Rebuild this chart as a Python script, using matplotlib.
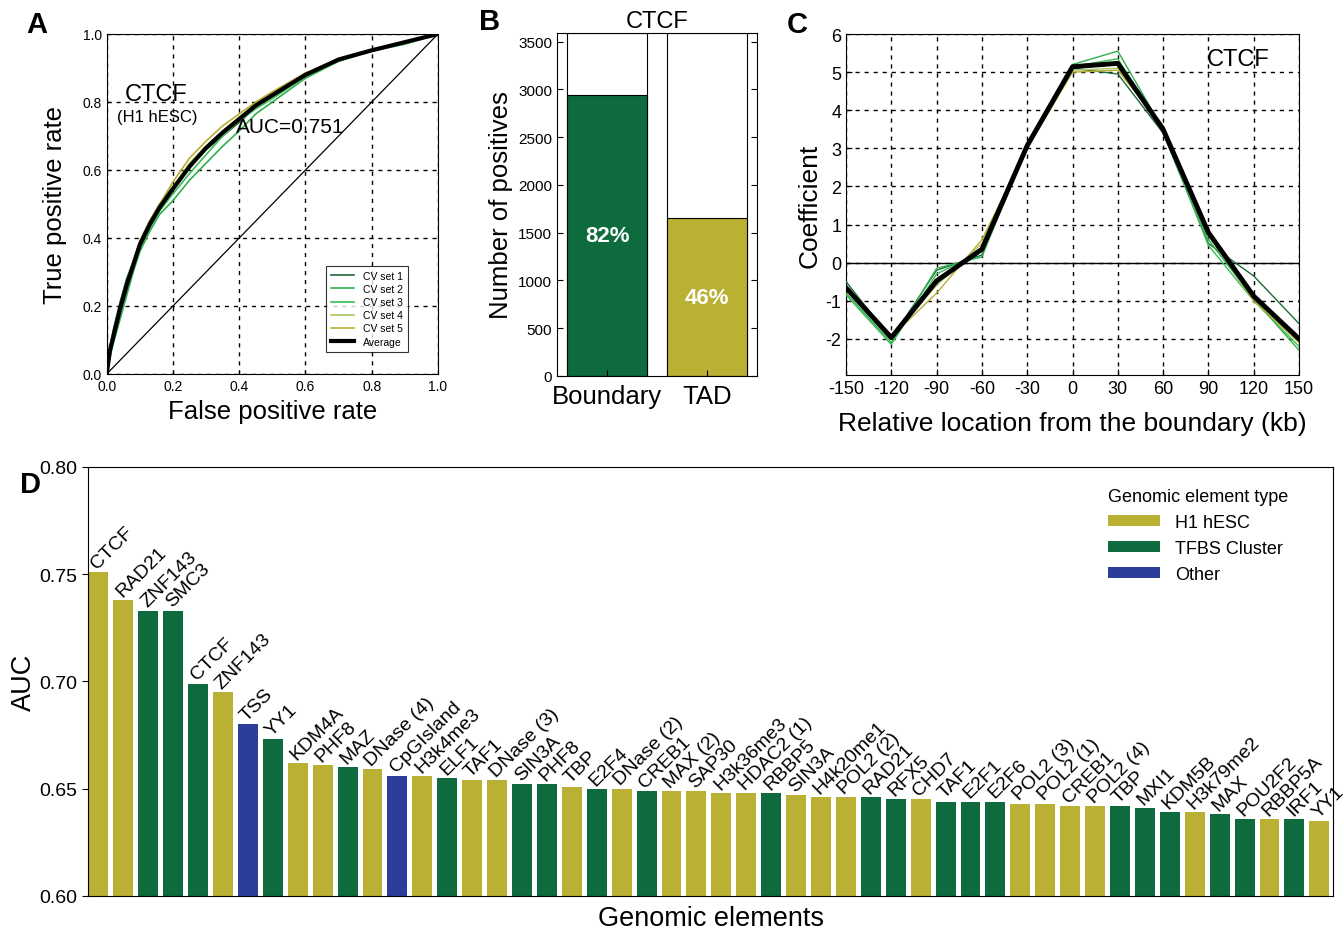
import matplotlib
matplotlib.use("Agg")
import matplotlib.pyplot as plt
from matplotlib.patches import Patch
import numpy as np

plt.rcParams['font.family'] = ['Liberation Sans', 'DejaVu Sans']
plt.rcParams['axes.unicode_minus'] = False

# ---------------- Data ----------------
# Panel A: ROC curves
roc_fpr = [0, .01, .02, .04, .06, .08, .10, .13, .16, .20, .25, .30, .35, .40, .45, .50, .60, .70, .80, .90, 1.0]
roc_cv1 = [0, .08, .13, .21, .28, .33, .39, .45, .50, .55, .61, .66, .70, .74, .785, .82, .88, .925, .95, .975, 1]
roc_cv2 = [0, .05, .09, .16, .23, .30, .36, .42, .47, .51, .57, .62, .67, .715, .765, .80, .87, .92, .95, .975, 1]
roc_cv3 = [0, .06, .10, .18, .25, .31, .37, .43, .48, .53, .59, .645, .70, .745, .78, .81, .875, .92, .95, .97, 1]
roc_cv4 = [0, .07, .11, .19, .26, .32, .385, .445, .495, .55, .62, .67, .715, .755, .79, .825, .885, .925, .955, .978, 1]
roc_cv5 = [0, .07, .12, .20, .27, .33, .39, .45, .50, .565, .635, .685, .73, .765, .80, .83, .885, .925, .95, .975, 1]
roc_avg = [0, .07, .11, .19, .26, .32, .38, .44, .49, .545, .61, .665, .71, .75, .79, .82, .88, .925, .952, .976, 1]
roc_labels = ['CV set 1', 'CV set 2', 'CV set 3', 'CV set 4', 'CV set 5', 'Average']

# Panel B
b_categories = ['Boundary', 'TAD']
b_total = [3590, 3590]
b_positives = [2944, 1650]
b_pct = ['82%', '46%']

# Panel C: coefficients
c_loc = [-150, -120, -90, -60, -30, 0, 30, 60, 90, 120, 150]
c_cv1 = [-0.5, -2.0, -0.2, 0.2, 3.0, 5.1, 4.95, 3.4, 0.5, -0.35, -1.6]
c_cv2 = [-0.8, -2.1, -0.15, 0.15, 3.1, 5.2, 5.55, 3.5, 0.6, -0.95, -2.3]
c_cv3 = [-0.85, -2.15, -0.3, 0.3, 3.0, 5.15, 5.35, 3.45, 0.45, -1.0, -2.2]
c_cv4 = [-0.6, -1.9, -0.6, 0.5, 3.1, 5.05, 5.1, 3.6, 0.7, -0.9, -2.1]
c_cv5 = [-0.7, -1.95, -0.8, 0.6, 3.0, 5.0, 5.05, 3.55, 0.75, -1.0, -2.1]
c_avg = [-0.66, -1.97, -0.48, 0.35, 3.07, 5.14, 5.23, 3.5, 0.79, -0.88, -2.0]

# Panel D
d_names = ['CTCF', 'RAD21', 'ZNF143', 'SMC3', 'CTCF', 'ZNF143', 'TSS', 'YY1', 'KDM4A', 'PHF8',
           'MAZ', 'DNase (4)', 'CpGIsland', 'H3k4me3', 'ELF1', 'TAF1', 'DNase (3)', 'SIN3A', 'PHF8', 'TBP',
           'E2F4', 'DNase (2)', 'CREB1', 'MAX (2)', 'SAP30', 'H3k36me3', 'HDAC2 (1)', 'RBBP5', 'SIN3A', 'H4k20me1',
           'POL2 (2)', 'RAD21', 'RFX5', 'CHD7', 'TAF1', 'E2F1', 'E2F6', 'POL2 (3)', 'POL2 (1)', 'CREB1',
           'POL2 (4)', 'TBP', 'MXI1', 'KDM5B', 'H3k79me2', 'MAX', 'POU2F2', 'RBBP5A', 'IRF1', 'YY1']
d_auc = [0.751, 0.738, 0.733, 0.733, 0.699, 0.695, 0.680, 0.673, 0.662, 0.661,
         0.660, 0.659, 0.656, 0.656, 0.655, 0.654, 0.654, 0.652, 0.652, 0.651,
         0.650, 0.650, 0.649, 0.649, 0.649, 0.648, 0.648, 0.648, 0.647, 0.646,
         0.646, 0.646, 0.645, 0.645, 0.644, 0.644, 0.644, 0.643, 0.643, 0.642,
         0.642, 0.642, 0.641, 0.639, 0.639, 0.638, 0.636, 0.636, 0.636, 0.635]
d_type = ['H1', 'H1', 'TF', 'TF', 'TF', 'H1', 'O', 'TF', 'H1', 'H1',
          'TF', 'H1', 'O', 'H1', 'TF', 'H1', 'H1', 'TF', 'TF', 'H1',
          'TF', 'H1', 'TF', 'H1', 'H1', 'H1', 'H1', 'TF', 'H1', 'H1',
          'H1', 'TF', 'TF', 'H1', 'TF', 'TF', 'TF', 'H1', 'H1', 'H1',
          'H1', 'TF', 'TF', 'TF', 'H1', 'TF', 'TF', 'H1', 'TF', 'H1']
d_type_labels = {'H1': 'H1 hESC', 'TF': 'TFBS Cluster', 'O': 'Other'}

YEL = '#BAB034'
GRN = '#0D6B3D'
BLU = '#2B3E9A'
type_colors = {'H1': YEL, 'TF': GRN, 'O': BLU}
cv_colors = ['#1C6B3A', '#2DB04D', '#3BBE55', '#A9C563', '#B8AF2E']

grid_kw = dict(color='black', linestyle=(0, (3, 3.5)), linewidth=1.0)

fig = plt.figure(figsize=(13.43, 9.29), dpi=100)

def frac(x0, y0, x1, y1):
    W, H = 1343.0, 929.0
    return [x0 / W, 1 - y1 / H, (x1 - x0) / W, (y1 - y0) / H]

# ---------------- Panel A ----------------
axA = fig.add_axes(frac(106.7, 35, 438, 375))
axA.plot([0, 1], [0, 1], color='black', lw=0.9, zorder=2)
for ys, c, lab in zip([roc_cv1, roc_cv2, roc_cv3, roc_cv4, roc_cv5], cv_colors, roc_labels[:5]):
    axA.plot(roc_fpr, ys, color=c, lw=1.2, label=lab, zorder=3)
axA.plot(roc_fpr, roc_avg, color='black', lw=3, label=roc_labels[5], zorder=4)
axA.set_xlim(0, 1)
axA.set_ylim(0, 1)
axA.set_xticks(np.arange(0, 1.01, 0.2))
axA.set_yticks(np.arange(0, 1.01, 0.2))
axA.set_xticklabels(['0.0', '0.2', '0.4', '0.6', '0.8', '1.0'])
axA.set_yticklabels(['0.0', '0.2', '0.4', '0.6', '0.8', '1.0'])
axA.tick_params(labelsize=10, direction='in', length=3)
axA.grid(True, **grid_kw)
axA.set_xlabel('False positive rate', fontsize=18.5)
axA.set_ylabel('True positive rate', fontsize=18.5)
axA.xaxis.set_label_coords(0.5, -0.075)
axA.yaxis.set_label_coords(-0.12, 0.5)
axA.text(0.149, 0.824, 'CTCF', fontsize=17, ha='center', va='center')
axA.text(0.152, 0.756, '(H1 hESC)', fontsize=12, ha='center', va='center')
axA.text(0.553, 0.729, 'AUC=0.751', fontsize=15, ha='center', va='center')
legA = axA.legend(loc='lower right', bbox_to_anchor=(0.925, 0.05), fontsize=7.5,
                  handlelength=2.2, frameon=True, fancybox=False, edgecolor='black',
                  borderpad=0.5, labelspacing=0.3)
legA.get_frame().set_linewidth(0.8)
fig.text(37 / 1343, 1 - 25 / 929, 'A', fontsize=21, fontweight='bold', ha='center', va='center')

# ---------------- Panel B ----------------
axB = fig.add_axes(frac(557, 34, 757, 377))
xb = np.arange(len(b_categories))
axB.bar(xb, b_total, width=0.8, color='white', edgecolor='black', linewidth=0.8)
axB.bar(xb, b_positives, width=0.8, color=[GRN, YEL], edgecolor='black', linewidth=0.8)
for i, (p, t) in enumerate(zip(b_positives, b_pct)):
    axB.text(i, p / 2, t, color='white', fontsize=16,
             fontweight='bold', ha='center', va='center')
axB.set_xlim(-0.5, 1.5)
axB.set_ylim(0, 3590)
axB.set_yticks(np.arange(0, 3501, 500))
axB.set_xticks(xb)
axB.set_xticklabels(b_categories, fontsize=18.5)
axB.tick_params(axis='y', labelsize=11, direction='in', right=True, length=4)
axB.tick_params(axis='x', direction='in', length=4, pad=6)
axB.set_ylabel('Number of positives', fontsize=18.5)
axB.yaxis.set_label_coords(-0.22, 0.5)
axB.set_title('CTCF', fontsize=17, pad=4)
fig.text(490 / 1343, 1 - 22 / 929, 'B', fontsize=21, fontweight='bold', ha='center', va='center')

# ---------------- Panel C ----------------
axC = fig.add_axes(frac(846, 35, 1299, 376))
axC.axhline(0, color='black', lw=1.0, zorder=2)
for ys, c in zip([c_cv1, c_cv2, c_cv3, c_cv4, c_cv5], cv_colors):
    axC.plot(c_loc, ys, color=c, lw=1.0, zorder=3)
axC.plot(c_loc, c_avg, color='black', lw=3.5, zorder=4)
axC.set_xlim(-150, 150)
axC.set_ylim(-2.95, 6)
axC.set_xticks(c_loc)
axC.set_yticks(np.arange(-2, 7, 1))
axC.tick_params(labelsize=13, direction='in', length=4)
axC.grid(True, **grid_kw)
axC.set_xlabel('Relative location from the boundary (kb)', fontsize=19)
axC.set_ylabel('Coefficient', fontsize=19)
axC.xaxis.set_label_coords(0.5, -0.105)
axC.yaxis.set_label_coords(-0.053, 0.5)
axC.text(110, 5.35, 'CTCF', fontsize=17, ha='center', va='center')
fig.text(797 / 1343, 1 - 25 / 929, 'C', fontsize=21, fontweight='bold', ha='center', va='center')

# ---------------- Panel D ----------------
axD = fig.add_axes(frac(88, 468, 1333, 897))
xd = np.arange(len(d_names))
axD.bar(xd, [a - 0.6 for a in d_auc], bottom=0.6, width=0.8,
        color=[type_colors[t] for t in d_type], linewidth=0)
for i, (n, a) in enumerate(zip(d_names, d_auc)):
    axD.text(i - 0.05, a + 0.0015, n, rotation=45, rotation_mode='anchor',
             ha='left', va='baseline', fontsize=14)
axD.set_xlim(-0.42, len(d_names) - 0.45)
axD.set_ylim(0.60, 0.80)
axD.set_yticks([0.60, 0.65, 0.70, 0.75, 0.80])
axD.set_yticklabels(['0.60', '0.65', '0.70', '0.75', '0.80'])
axD.set_xticks([])
axD.tick_params(axis='y', labelsize=14, direction='out', length=4)
axD.set_xlabel('Genomic elements', fontsize=19.5)
axD.set_ylabel('AUC', fontsize=19.5)
axD.xaxis.set_label_coords(0.5, -0.02)
axD.yaxis.set_label_coords(-0.041, 0.5)
handles = [Patch(facecolor=type_colors[k], edgecolor='none', label=d_type_labels[k]) for k in ['H1', 'TF', 'O']]
legD = axD.legend(handles=handles, title='Genomic element type', loc='upper right',
                  bbox_to_anchor=(0.977, 0.99), frameon=False, fontsize=13, title_fontsize=13,
                  handlelength=2.9, handleheight=0.55, labelspacing=0.5, alignment='left')
fig.text(30 / 1343, 1 - 485 / 929, 'D', fontsize=21, fontweight='bold', ha='center', va='center')

fig.savefig('out.png', dpi=100)
